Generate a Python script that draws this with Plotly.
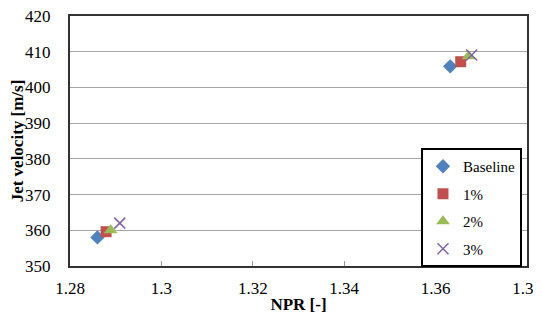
import plotly.graph_objects as go

series_names = ["Baseline", "1%", "2%", "3%"]
npr_values = [
    [1.2860, 1.3632],
    [1.2879, 1.3655],
    [1.2889, 1.3672],
    [1.2909, 1.3679],
]
jet_velocity = [
    [358.0, 405.9],
    [359.6, 407.2],
    [360.0, 408.7],
    [362.0, 409.1],
]
x_ticks = [1.28, 1.30, 1.32, 1.34, 1.36, 1.38]
x_tick_labels = ["1.28", "1.3", "1.32", "1.34", "1.36", "1.38"]
y_ticks = [350, 360, 370, 380, 390, 400, 410, 420]

colors = ["#4F81BD", "#C0504D", "#9BBB59", "#8064A2"]
symbols = ["diamond", "square", "triangle-up", "x-thin"]
sizes = [11, 11, 12, 11]

fig = go.Figure()
for i, name in enumerate(series_names):
    marker = dict(symbol=symbols[i], size=sizes[i], color=colors[i])
    if symbols[i] == "x-thin":
        marker["line"] = dict(color=colors[i], width=1.5)
    else:
        marker["line"] = dict(width=0)
    fig.add_trace(go.Scatter(
        x=npr_values[i], y=jet_velocity[i], mode="markers", name=name,
        marker=marker, legendgroup=name,
    ))

serif = "Liberation Serif, Tinos, DejaVu Serif"
tick_font = dict(family=serif, size=17, color="black")
title_font = dict(family=serif, size=17, color="black")
legend_font = dict(family=serif, size=15, color="black")

# page body has an 8px default margin: figure is offset by 8px and sized to fit the window
fig.update_layout(
    width=533, height=307,
    margin=dict(l=62, r=14, t=8, b=49),
    paper_bgcolor="white", plot_bgcolor="white",
    font=dict(family=serif, size=17, color="black"),
    showlegend=True,
    legend=dict(
        x=0.989, y=0.472, xanchor="right", yanchor="top",
        bgcolor="white", bordercolor="black", borderwidth=2,
        font=legend_font,
        tracegroupgap=5, itemwidth=30,
    ),
    xaxis=dict(
        range=[1.28, 1.38], tickvals=x_ticks, ticktext=x_tick_labels,
        showgrid=False, zeroline=False, automargin=False,
        showline=True, linecolor="#333333", linewidth=2, mirror=True,
        ticks="inside", ticklen=5, tickcolor="#999999",
        ticklabelstandoff=6, tickfont=tick_font, ticklabeloverflow="allow",
        title=dict(text="<b>NPR [-]</b>", font=title_font, standoff=1),
    ),
    yaxis=dict(
        range=[350, 420], tickvals=y_ticks,
        showgrid=True, gridcolor="#a6a6a6", gridwidth=1, zeroline=False, automargin=False,
        showline=True, linecolor="#333333", linewidth=2, mirror=True,
        ticks="", ticklabelstandoff=14, tickfont=tick_font, ticklabeloverflow="allow",
        title=dict(text="<b>Jet velocity [m/s]</b>", font=title_font, standoff=1),
    ),
)

fig.write_html("out.html")
